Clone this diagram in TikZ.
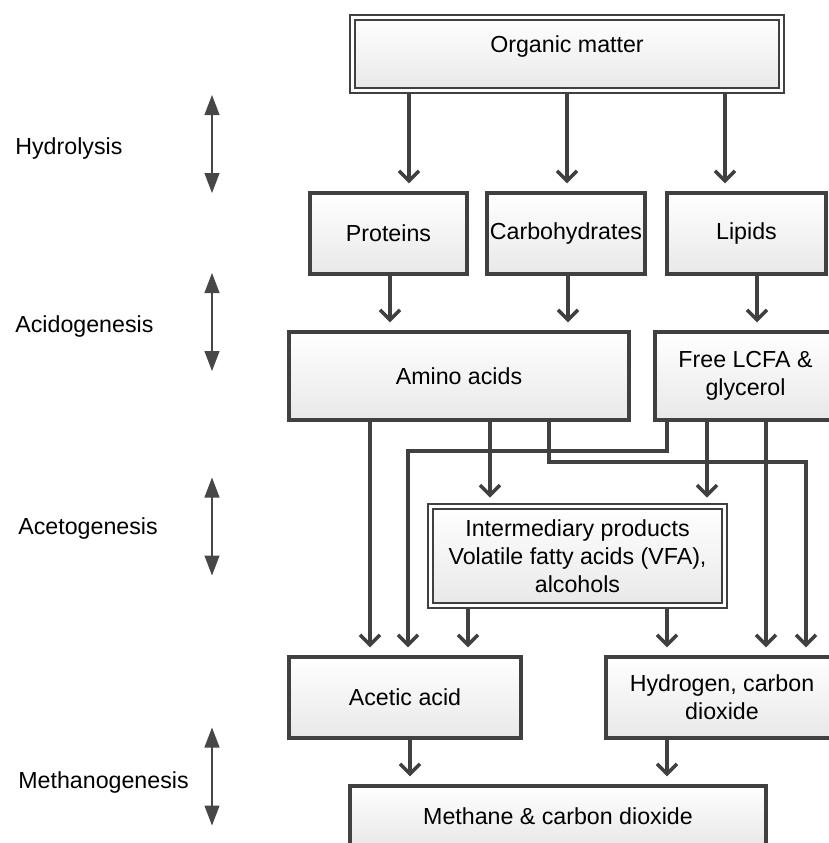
\documentclass[tikz,border=0pt]{standalone}
\usepackage{fontspec}
\setmainfont{Liberation Sans}
\usetikzlibrary{arrows.meta,shadows,positioning}

\begin{document}
\begin{tikzpicture}[x=0.5pt,y=-0.5pt,
stage/.style={rectangle, draw=black!75, line width=1.75pt, top color=white, bottom color=black!9, drop shadow={shadow xshift=1.2pt, shadow yshift=-1.2pt, opacity=0.3}, align=center, inner sep=0pt, font=\fontsize{11.6}{14}\selectfont},
dstage/.style={stage, line width=1pt, double=white, double distance=1.5pt},
phase/.style={anchor=west, inner sep=0pt, font=\fontsize{11.6}{14}\selectfont},
span/.style={{Triangle[length=10pt,width=7.5pt]}-{Triangle[length=10pt,width=7.5pt]}, black!72, line width=0.6pt},
flow/.style={-{Straight Barb[length=5pt,width=10pt]}, black!75, line width=1.75pt, shorten >=4pt}
]
\clip (0,0) rectangle (829,843);
% stages on the left
\foreach \n/\t/\x/\y/\a in {hyd/Hydrolysis/15/148/144, acido/Acidogenesis/15/326/322, aceto/Acetogenesis/18/528/526.5, metha/Methanogenesis/18/782/776.5}
{
  \node[phase] (\n) at (\x,\y) {\t};
  \coordinate (\n-up) at (212,\a-49);
  \coordinate (\n-dn) at (212,\a+49);
  \draw[span] (\n-up) -- (\n-dn);
}
% boxes
\node[dstage, minimum width=214.5pt, minimum height=36.5pt, text depth=10pt] (organic) at (567,54) {Organic matter};
\node[stage, minimum width=78.5pt, minimum height=40.5pt] (proteins) at (388.5,233.5) {Proteins};
\node[stage, minimum width=79pt, minimum height=40.5pt] (carbo) at (566,233.5) {Carbohydrates};
\node[stage, minimum width=79.5pt, minimum height=40.5pt] (lipids) at (746.5,233.5) {Lipids};
\node[stage, minimum width=170pt, minimum height=44pt] (amino) at (459,376) {Amino acids};
\node[stage, minimum width=90.5pt, minimum height=44pt] (lcfa) at (745.5,376) {Free LCFA \&\\glycerol};
\node[dstage, minimum width=147pt, minimum height=49.5pt] (inter) at (577.5,556) {Intermediary products\\Volatile fatty acids (VFA),\\alcohols};
\node[stage, minimum width=116pt, minimum height=40.5pt] (acetic) at (405,697.5) {Acetic acid};
\node[stage, minimum width=116pt, minimum height=40.5pt] (hydro) at (722,697.5) {Hydrogen, carbon\\dioxide};
\node[stage, minimum width=208pt, minimum height=30pt] (methane) at (558,816) {Methane \& carbon dioxide};
% hydrolysis
\draw[flow] (409,0 |- organic.south) -- (409,0 |- proteins.north);
\draw[flow] (567,0 |- organic.south) -- (567,0 |- carbo.north);
\draw[flow] (725,0 |- organic.south) -- (725,0 |- lipids.north);
% acidogenesis
\draw[flow] (390,0 |- proteins.south) -- (390,0 |- amino.north);
\draw[flow] (568,0 |- carbo.south) -- (568,0 |- amino.north);
\draw[flow] (757,0 |- lipids.south) -- (757,0 |- lcfa.north);
% acetogenesis
\draw[flow] (370,0 |- amino.south) -- (370,0 |- acetic.north);
\draw[flow] (667,0 |- lcfa.south) -- ++(0,29) -| (408,0 |- acetic.north);
\draw[flow] (490,0 |- amino.south) -- (490,0 |- inter.north);
\draw[flow] (549,0 |- amino.south) -- ++(0,40) -| (806,0 |- hydro.north);
\draw[flow] (707,0 |- lcfa.south) -- (707,0 |- inter.north);
\draw[flow] (766,0 |- lcfa.south) -- (766,0 |- hydro.north);
\draw[flow] (468,0 |- inter.south) -- (468,0 |- acetic.north);
\draw[flow] (667,0 |- inter.south) -- (667,0 |- hydro.north);
% methanogenesis
\draw[flow] (410,0 |- acetic.south) -- (410,0 |- methane.north);
\draw[flow] (667,0 |- hydro.south) -- (667,0 |- methane.north);
\end{tikzpicture}
\end{document}
